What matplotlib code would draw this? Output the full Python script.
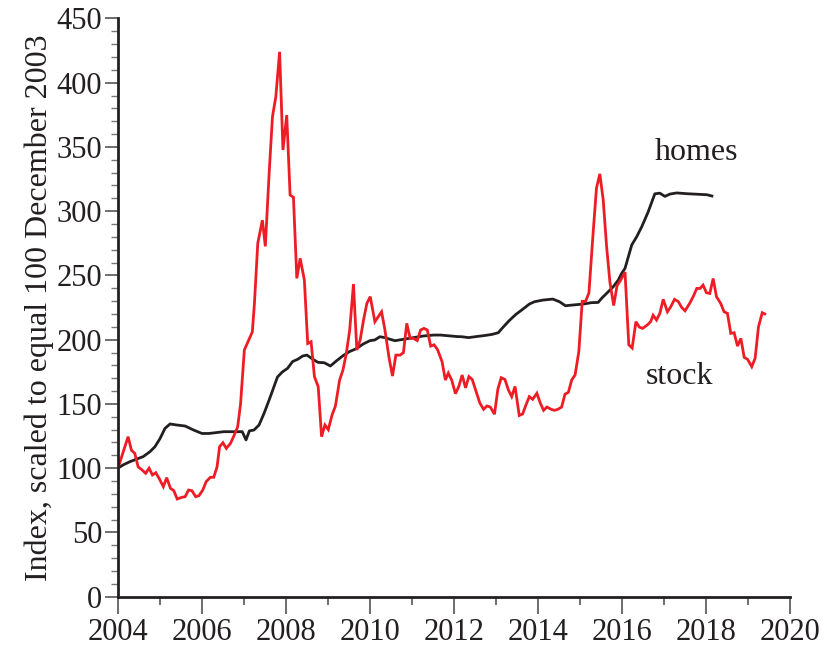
import matplotlib
matplotlib.use("Agg")
import matplotlib.pyplot as plt
from matplotlib.ticker import MultipleLocator

# Stock index (red): (year, value)
stock_t = [2004.0, 2004.24, 2004.32, 2004.4, 2004.48, 2004.56, 2004.66, 2004.74, 2004.82, 2004.9,
           2004.98, 2005.08, 2005.16, 2005.25, 2005.33, 2005.41, 2005.52, 2005.6, 2005.68, 2005.76,
           2005.85, 2005.93, 2006.02, 2006.1, 2006.2, 2006.28, 2006.36, 2006.42, 2006.5, 2006.58,
           2006.68, 2006.77, 2006.85, 2006.92, 2007.01, 2007.12, 2007.2, 2007.25, 2007.33, 2007.44,
           2007.51, 2007.6, 2007.68, 2007.76, 2007.85, 2007.93, 2008.02, 2008.1, 2008.18, 2008.26,
           2008.34, 2008.44, 2008.52, 2008.6, 2008.68, 2008.77, 2008.85, 2008.93, 2009.01, 2009.1,
           2009.18, 2009.28, 2009.36, 2009.44, 2009.52, 2009.61, 2009.69, 2009.77, 2009.85, 2009.93,
           2010.01, 2010.12, 2010.2, 2010.28, 2010.36, 2010.46, 2010.54, 2010.62, 2010.72, 2010.8,
           2010.88, 2010.96, 2011.04, 2011.13, 2011.21, 2011.29, 2011.37, 2011.45, 2011.53, 2011.61,
           2011.72, 2011.8, 2011.87, 2011.95, 2012.04, 2012.12, 2012.2, 2012.28, 2012.36, 2012.44,
           2012.52, 2012.62, 2012.71, 2012.79, 2012.87, 2012.97, 2013.05, 2013.13, 2013.22, 2013.3,
           2013.38, 2013.46, 2013.56, 2013.64, 2013.72, 2013.8, 2013.88, 2013.98, 2014.06, 2014.14,
           2014.22, 2014.32, 2014.4, 2014.48, 2014.57, 2014.65, 2014.73, 2014.81, 2014.89, 2014.98,
           2015.06, 2015.14, 2015.22, 2015.32, 2015.4, 2015.48, 2015.56, 2015.64, 2015.72, 2015.81,
           2015.89, 2015.97, 2016.08, 2016.17, 2016.25, 2016.34, 2016.42, 2016.5, 2016.61, 2016.69,
           2016.75, 2016.83, 2016.91, 2016.99, 2017.09, 2017.17, 2017.26, 2017.35, 2017.43, 2017.51,
           2017.62, 2017.71, 2017.79, 2017.87, 2017.94, 2018.02, 2018.1, 2018.18, 2018.26, 2018.36,
           2018.44, 2018.52, 2018.6, 2018.68, 2018.76, 2018.84, 2018.92, 2019.0, 2019.1, 2019.18,
           2019.26, 2019.35, 2019.41]
stock_v = [100, 124.5, 114, 111.5, 101, 99, 96, 100, 94.7, 96.5,
           92, 85.6, 92.6, 84.3, 82.5, 76, 77.3, 77.8, 83, 82.5,
           77.8, 78.6, 83, 89.5, 92.9, 92.9, 101, 116.7, 119.8, 115.4,
           119.3, 125.8, 132, 150, 192, 200, 206, 228, 275, 293,
           272.6, 329, 373.5, 389, 424, 347.6, 374.8, 312.6, 310.8, 247.7,
           263.3, 246.4, 197, 198.4, 171.2, 163.4, 124.5, 133.6, 130, 141.4,
           148.4, 168.6, 176.4, 189.4, 207.5, 243.3, 192, 199.8, 215.3, 228.3,
           233.5, 214, 217.8, 221.7, 207.5, 185.5, 171.7, 188, 188, 189.9,
           212.7, 201, 201, 199.3, 207.5, 208.8, 207.5, 195, 196, 192.5,
           183, 168.6, 174, 168.6, 158, 163.6, 172.5, 162.5, 171.3, 169,
           161, 150.8, 145.8, 148.4, 147.6, 142, 161.4, 170.4, 169, 161,
           155.7, 163.6, 141, 142.2, 149.2, 155.7, 153.6, 158.3, 150.8, 145,
           147.6, 145.8, 145, 145.8, 147.6, 157.6, 159, 168.6, 172.5, 190.8,
           229.8, 229.8, 236.4, 283, 318, 329, 309, 273, 244.8, 226.6,
           242, 246, 252.6, 196, 193.5, 214, 209.8, 208.8, 211.4, 214,
           219, 215.3, 220.5, 231.4, 221.7, 225.6, 231.4, 229.6, 225.1, 222.5,
           228.2, 233.9, 239.9, 239.9, 242.5, 236.5, 236, 247.6, 233.4, 228.2,
           221.7, 220.5, 204.9, 205.4, 195, 201, 186.2, 184.7, 179, 185.5,
           210, 221, 220]

# Home price index (black)
homes_t = [2004.0, 2004.12, 2004.28, 2004.44, 2004.6, 2004.76, 2004.88, 2005.0, 2005.12, 2005.24,
           2005.4, 2005.6, 2005.8, 2006.0, 2006.16, 2006.32, 2006.52, 2006.76, 2006.96, 2007.05,
           2007.13, 2007.24, 2007.36, 2007.48, 2007.6, 2007.7, 2007.8, 2007.92, 2008.04, 2008.16,
           2008.28, 2008.4, 2008.5, 2008.61, 2008.76, 2008.92, 2009.06, 2009.2, 2009.36, 2009.52,
           2009.68, 2009.84, 2010.0, 2010.12, 2010.24, 2010.36, 2010.48, 2010.6, 2010.8, 2011.04,
           2011.28, 2011.52, 2011.68, 2011.92, 2012.08, 2012.19, 2012.35, 2012.51, 2012.75, 2012.91,
           2013.06, 2013.15, 2013.32, 2013.48, 2013.64, 2013.8, 2013.92, 2014.12, 2014.36, 2014.52,
           2014.66, 2014.84, 2015.08, 2015.28, 2015.44, 2015.52, 2015.64, 2015.8, 2015.92, 2016.0,
           2016.08, 2016.16, 2016.24, 2016.36, 2016.48, 2016.63, 2016.79, 2016.91, 2017.03, 2017.15,
           2017.31, 2017.55, 2017.79, 2018.03, 2018.15]
homes_v = [100, 102.5, 105, 107, 109, 112.8, 116.7, 123, 131, 134.4,
           133.6, 132.8, 129.7, 127, 127, 127.6, 128.4, 128.4, 128.4, 122,
           129, 129.7, 133.6, 142.7, 153, 162, 171, 175, 177.7, 183,
           184.7, 187.3, 188, 185.5, 182.4, 182, 179.5, 183.4, 187.5, 190.8,
           193, 196.6, 199.2, 199.8, 202.3, 201.6, 200.3, 199.2, 200.3, 201.6,
           202.9, 203.6, 203.6, 202.9, 202.4, 202.3, 201.6, 202.3, 203.3, 204.1,
           205.4, 208.8, 214.8, 219.7, 223.6, 227.7, 229.5, 230.8, 231.6, 229.5,
           226.4, 227, 227.7, 228.8, 229, 232.1, 236, 241.2, 246.4, 251.6,
           255.5, 264.6, 273.7, 280.2, 288, 299.3, 313.5, 314, 311.5, 313.3,
           314.2, 313.6, 313.2, 312.8, 311.8]

xticks = [2004, 2006, 2008, 2010, 2012, 2014, 2016, 2018, 2020]
yticks = [0, 50, 100, 150, 200, 250, 300, 350, 400, 450]
ylabel = "Index, scaled to equal 100 December 2003"

plt.rcParams['font.family'] = ['Liberation Serif', 'DejaVu Serif']

fig = plt.figure(figsize=(8.27, 6.58), dpi=100)
ax = fig.add_axes([0.1427, 0.0932, 0.812, 0.8788])

ax.plot(homes_t, homes_v, color='#231f20', lw=2.0, solid_joinstyle='round')
ax.plot(stock_t, stock_v, color='#ee1c25', lw=2.0, solid_joinstyle='miter')

ax.set_xlim(2004, 2020)
ax.set_ylim(0, 450)
ax.set_xticks(xticks)
ax.set_yticks(yticks)
ax.xaxis.set_minor_locator(MultipleLocator(1))
ax.yaxis.set_minor_locator(MultipleLocator(10))

for s in ['top', 'right']:
    ax.spines[s].set_visible(False)
for s in ['left', 'bottom']:
    ax.spines[s].set_linewidth(2.0)
    ax.spines[s].set_color('#231f20')

ax.tick_params(axis='x', which='major', direction='out', length=12, width=1.2,
               color='#555555', labelsize=22, pad=3, labelcolor='#231f20')
ax.tick_params(axis='x', which='minor', direction='out', length=6, width=1.2, color='#555555')
ax.tick_params(axis='y', which='major', direction='out', length=9.5, width=1.2,
               color='#555555', labelsize=22, pad=2, labelcolor='#231f20')
ax.tick_params(axis='y', which='minor', direction='out', length=5, width=1.0, color='#777777')

ax.set_ylabel(ylabel, fontsize=23, color='#231f20', labelpad=2)

ax.text(2017.78, 346, "homes", fontsize=23, color='#231f20', ha='center', va='center')
ax.text(2017.37, 171, "stock", fontsize=23, color='#231f20', ha='center', va='center')

fig.savefig("out.png", dpi=100)
